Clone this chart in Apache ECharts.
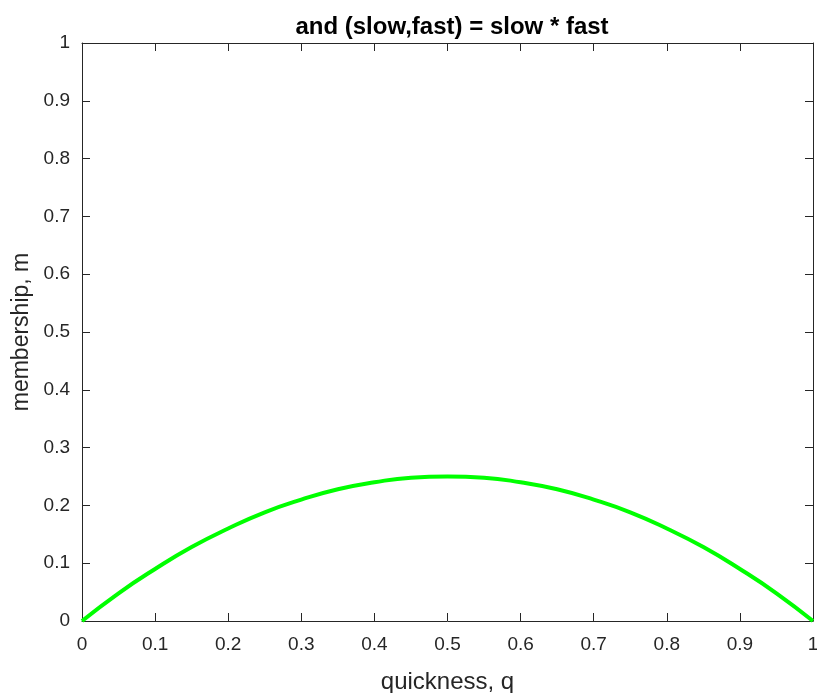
<!DOCTYPE html>
<html>
<head>
<meta charset="utf-8">
<script src="https://cdn.jsdelivr.net/npm/echarts@6/dist/echarts.min.js"></script>
<style>
  html, body { margin: 0; padding: 0; background: #fff; }
  #chart { width: 817px; height: 693px; }
</style>
</head>
<body>
<div id="chart"></div>
<script>
// quickness q (x) and membership m (y)
const quickness = [0, 0.05, 0.1, 0.15, 0.2, 0.25, 0.3, 0.35, 0.4, 0.45, 0.5,
                   0.55, 0.6, 0.65, 0.7, 0.75, 0.8, 0.85, 0.9, 0.95, 1];
const membership = [0, 0.048, 0.09, 0.128, 0.16, 0.188, 0.21, 0.228, 0.24, 0.248, 0.25,
                    0.248, 0.24, 0.228, 0.21, 0.188, 0.16, 0.128, 0.09, 0.048, 0];

const titleText = 'and (slow,fast) = slow * fast';
const xName = 'quickness, q';
const yName = 'membership, m';

const axisColor = '#262626';
const font = 'Liberation Sans, Arial, Helvetica, sans-serif';

let points = quickness.map((q, i) => [q, membership[i]]);

let chart = echarts.init(document.getElementById('chart'));

const baseAxis = {
  type: 'value',
  min: 0,
  max: 1,
  interval: 0.1,
  splitLine: { show: false },
  axisLine: { show: true, onZero: false, lineStyle: { color: axisColor, width: 1 } },
  axisTick: { show: true, inside: true, length: 8, lineStyle: { color: axisColor } }
};

let option = {
  animation: false,
  backgroundColor: '#fff',
  title: {
    text: titleText,
    left: 447,
    textAlign: 'center',
    top: 10,
    textStyle: { fontFamily: font, fontSize: 24, fontWeight: 'bold', color: '#000' }
  },
  grid: { left: 82, top: 43, right: 4, bottom: 72, outerBoundsMode: 'none' },
  xAxis: [
    Object.assign({}, baseAxis, {
      position: 'bottom',
      name: xName,
      nameLocation: 'middle',
      nameGap: 49,
      nameTextStyle: { fontFamily: font, fontSize: 24, color: axisColor },
      axisLabel: { fontFamily: font, fontSize: 19, color: axisColor, margin: 14 }
    }),
    Object.assign({}, baseAxis, {
      position: 'top',
      axisLabel: { show: false }
    })
  ],
  yAxis: [
    Object.assign({}, baseAxis, {
      position: 'left',
      name: yName,
      nameLocation: 'middle',
      nameGap: 48,
      nameTextStyle: { fontFamily: font, fontSize: 23, color: axisColor },
      axisLabel: { fontFamily: font, fontSize: 19, color: axisColor, margin: 12 }
    }),
    Object.assign({}, baseAxis, {
      position: 'right',
      axisLabel: { show: false }
    })
  ],
  series: [
    {
      type: 'line',
      data: points,
      smooth: true,
      showSymbol: false,
      lineStyle: { color: '#00ff00', width: 4 },
      itemStyle: { color: '#00ff00' }
    }
  ]
};

chart.setOption(option);
</script>
</body>
</html>
